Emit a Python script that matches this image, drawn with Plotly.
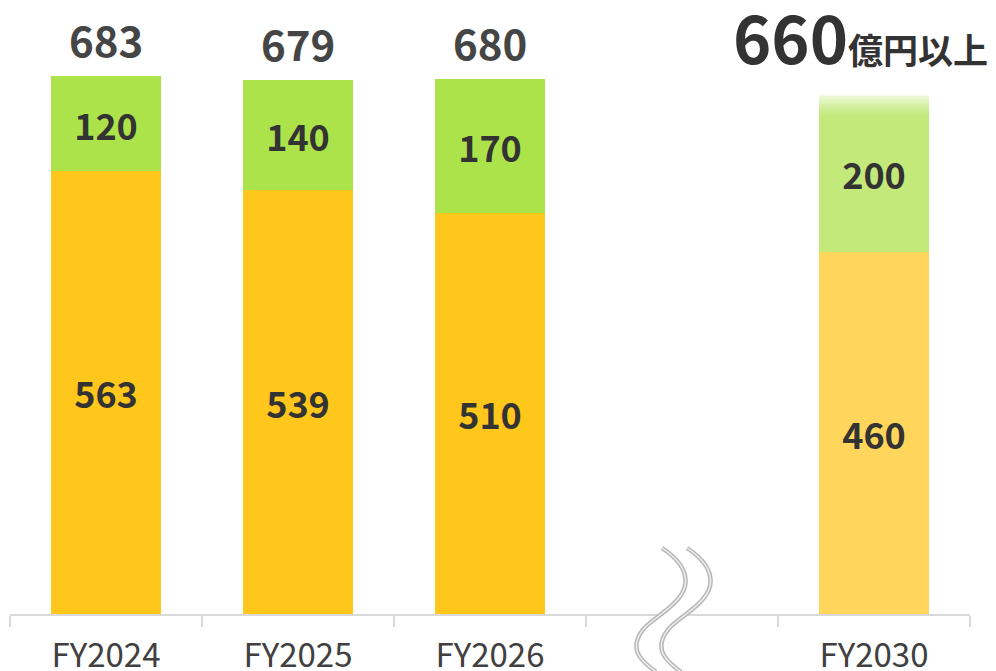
import plotly.graph_objects as go

# --- data -----------------------------------------------------------------
categories = ["FY2024", "FY2025", "FY2026", " ", "FY2030"]
base_vals = [563, 539, 510, None, 460]
growth_vals = [120, 140, 170, None, 200]
totals = [683, 679, 680, None, 660]
target_suffix = "億円以上"

FONT = "Noto Sans CJK JP"
BASE_COL = ["#FFC61B", "#FFC61B", "#FFC61B", "#FFC61B", "#FFD55B"]
GROW_COL = ["#ADE34A", "#ADE34A", "#ADE34A", "#ADE34A", "#C3E97B"]
BAR_W = 0.573

# page body adds an 8px offset; size the figure so the plot lands right
OFF = 8
W, H = 988, 663
L, R, T, B = 2, 26, 0, 57
# plot area in screen pixels
PX0, PX1 = L + OFF, W - R + OFF
PY0, PY1 = T + OFF, H - B + OFF


def to_paper(x, y):
    return (x - PX0) / (PX1 - PX0), (PY1 - y) / (PY1 - PY0)


def path_from(segs):
    out = []
    for cmd, pts in segs:
        out.append(cmd + " " + " ".join("%.5f,%.5f" % to_paper(*p) for p in pts))
    return " ".join(out)


fig = go.Figure()
fig.add_trace(go.Bar(
    x=categories, y=base_vals, marker=dict(color=BASE_COL, line=dict(width=0)),
    width=BAR_W, text=base_vals, texttemplate="<b>%{y}</b>",
    textposition="inside", insidetextanchor="middle",
    textfont=dict(family=FONT, size=36, color="#333333"),
    hoverinfo="skip", showlegend=False))
fig.add_trace(go.Bar(
    x=categories, y=growth_vals, marker=dict(color=GROW_COL, line=dict(width=0)),
    width=BAR_W, text=growth_vals, texttemplate="<b>%{y}</b>",
    textposition="inside", insidetextanchor="middle",
    textfont=dict(family=FONT, size=36, color="#333333"),
    hoverinfo="skip", showlegend=False))

# totals above bars
for i, (c, t) in enumerate(zip(categories, totals)):
    if t is None:
        continue
    if c == "FY2030":
        fig.add_annotation(
            x=c, y=t, yanchor="bottom", xanchor="center", xshift=-14, yshift=10,
            text=f"<b>{t}</b><b><span style='font-size:35px'>{target_suffix}</span></b>",
            showarrow=False, font=dict(family=FONT, size=65, color="#333333"))
    else:
        fig.add_annotation(
            x=c, y=t, yanchor="bottom", yshift=5, text=f"<b>{t}</b>",
            showarrow=False, font=dict(family=FONT, size=42, color="#454545"))

# fade at the top of the FY2030 target bar
idx = categories.index("FY2030")
n = 14
span = 28
for k in range(n):
    y_hi = totals[idx] - span * k / n
    y_lo = totals[idx] - span * (k + 1) / n
    fig.add_shape(type="rect", xref="x", yref="y",
                  x0=idx - BAR_W / 2, x1=idx + BAR_W / 2, y0=y_lo, y1=y_hi,
                  fillcolor="white", opacity=0.85 * (1 - k / n) ** 1.5,
                  line=dict(width=0), layer="above")


# axis break symbol (two wavy lines)
def wave(dx):
    return [
        ("M", [(662 + dx, 548)]),
        ("C", [(680 + dx, 560), (688 + dx, 572), (685 + dx, 586)]),
        ("C", [(682 + dx, 600), (665 + dx, 611), (651 + dx, 622)]),
        ("C", [(638 + dx, 632), (632 + dx, 646), (640 + dx, 657)]),
        ("C", [(645 + dx, 664), (651 + dx, 668), (656 + dx, 672)]),
    ]


w1, w2 = wave(0), wave(25)
rev = [
    ("L", [(681, 672)]),
    ("C", [(676, 668), (670, 664), (665, 657)]),
    ("C", [(657, 646), (663, 632), (676, 622)]),
    ("C", [(690, 611), (707, 600), (710, 586)]),
    ("C", [(713, 572), (705, 560), (687, 548)]),
]
fig.add_shape(type="path", xref="paper", yref="paper", path=path_from(w1 + rev) + " Z",
              fillcolor="white", line=dict(width=0), layer="above")
for w in (w1, w2):
    fig.add_shape(type="path", xref="paper", yref="paper", path=path_from(w),
                  line=dict(color="#b8b8b8", width=4.5), layer="above")
    fig.add_shape(type="path", xref="paper", yref="paper", path=path_from(w),
                  line=dict(color="#eeeeee", width=1.5), layer="above")

fig.update_layout(
    barmode="stack", width=W, height=H,
    margin=dict(l=L, r=R, t=T, b=B, autoexpand=False),
    plot_bgcolor="white", paper_bgcolor="white",
    font=dict(family=FONT))
fig.update_xaxes(
    type="category", range=[-0.5, len(categories) - 0.5],
    tickson="boundaries", ticks="outside", ticklen=11,
    tickcolor="#d9d9d9", tickwidth=2, showline=True, linecolor="#d9d9d9",
    linewidth=2, showgrid=False, ticklabelstandoff=11, automargin=False,
    tickfont=dict(family=FONT, size=33, color="#404040"))
fig.update_yaxes(range=[0, 770], visible=False, showgrid=False)

fig.write_html("out.html")
